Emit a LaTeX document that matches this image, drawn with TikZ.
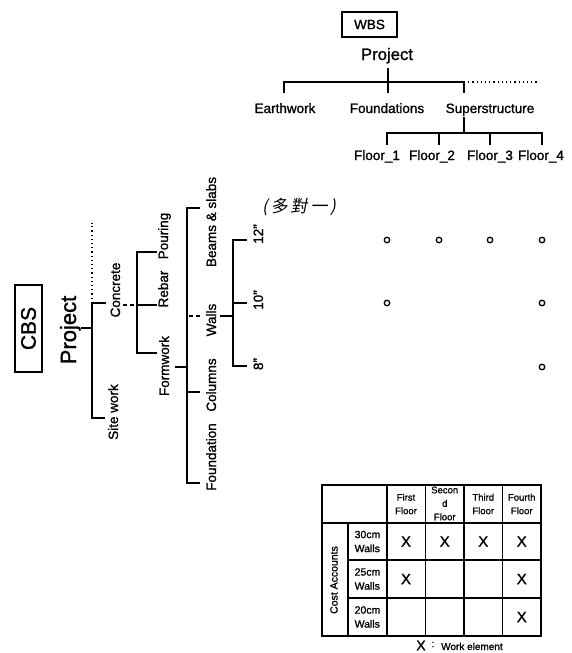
\documentclass[tikz,border=0pt]{standalone}
\usepackage{fontspec}
\setmainfont{Liberation Sans}[FakeBold=1.2]
\newfontfamily\cjkfont[FakeSlant=0.2]{Noto Sans CJK TC}
\begin{document}
\begin{tikzpicture}[x=1pt,y=-1pt,
  ln/.style={line width=1.3pt},
  dotln/.style={line width=1.2pt, dash pattern=on 1.2pt off 3pt},
  dashln/.style={line width=1.3pt, dash pattern=on 4pt off 3pt},
  boxnode/.style={draw, line width=1.2pt, inner sep=0pt},
  lbl/.style={font=\fontsize{13.5}{16}\selectfont, inner sep=0pt, anchor=base},
  vlbl/.style={lbl, rotate=90},
  thead/.style={font=\fontsize{9.5}{13.5}\selectfont, align=center, inner sep=0pt},
  trow/.style={font=\fontsize{10.5}{14}\selectfont, align=left, inner sep=0pt},
  xmark/.style={font=\fontsize{15}{15}\selectfont, inner sep=0pt},
  dotc/.style={draw, circle, line width=1.3pt, minimum size=5.5pt, inner sep=0pt},
  tbl/.style={line width=1.4pt},
  tblin/.style={line width=1.1pt},
]
\useasboundingbox (0,0) rectangle (572,653);

% ---------------- WBS ----------------
\node[boxnode, minimum width=55pt, minimum height=25pt, font=\fontsize{13.5}{16}\selectfont] (wbs) at (369.5,24.5) {WBS};
\node[font=\fontsize{16.7}{20}\selectfont, inner sep=0pt, anchor=base] (wproj) at (387,60) {Project};
\node[lbl] (earth) at (285,113) {Earthwork};
\node[lbl] (found) at (387,113) {Foundations};
\node[lbl] (super) at (490,113) {Superstructure};
\node[lbl] (fl1) at (377,160) {Floor\_1};
\node[lbl] (fl2) at (432,160) {Floor\_2};
\node[lbl] (fl3) at (490,160) {Floor\_3};
\node[lbl] (fl4) at (541,160) {Floor\_4};

\coordinate (wproj-out) at (388,68);
\coordinate (found-in) at (388,93);
\coordinate (earth-in) at (284,93);
\coordinate (super-in) at (464,93);
\coordinate (w-right) at (464,82);
\coordinate (w-dot) at (537,82);
\draw[ln] (wproj-out) -- (found-in);
\draw[ln] (earth-in) |- (w-right) -- (super-in);
\draw[dotln] (w-right) -- (w-dot);

\coordinate (super-out) at (464,117);
\coordinate (s-j) at (464,133);
\coordinate (fl1-in) at (387,145);
\coordinate (fl2-in) at (439,145);
\coordinate (fl3-in) at (490,145);
\coordinate (fl4-in) at (542,145);
\draw[ln] (super-out) -- (s-j);
\draw[ln] (fl1-in) |- (fl4-in |- s-j) -- (fl4-in);
\draw[ln] (fl2-in) -- (fl2-in |- s-j);
\draw[ln] (fl3-in) -- (fl3-in |- s-j);

% ---------------- CBS ----------------
\node[boxnode, rotate=90, minimum width=87pt, minimum height=27pt, font=\fontsize{21}{24}\selectfont] (cbs) at (28.5,328.5) {CBS};
\node[vlbl, font=\fontsize{22}{26}\selectfont] (cproj) at (76,330) {Project};
\node[vlbl] (conc) at (120,290) {Concrete};
\node[vlbl] (site) at (118,412) {Site work};
\node[vlbl] (pour) at (168,236) {Pouring};
\node[vlbl] (rebar) at (168,289) {Rebar};
\node[vlbl] (form) at (169,366) {Formwork};
\node[vlbl] (beam) at (216,222) {Beams \& slabs};
\node[vlbl] (walls) at (216,320) {Walls};
\node[vlbl] (col) at (216,385) {Columns};
\node[vlbl] (fdn) at (216,457) {Foundation};
\node[vlbl] (t12) at (263,234) {12"};
\node[vlbl] (t10) at (263,300) {10"};
\node[vlbl] (t8) at (263,364) {8"};

\coordinate (cproj-out) at (81,328);
\coordinate (c-mid) at (92,328);
\coordinate (conc-in) at (106,303);
\coordinate (site-in) at (105,418);
\coordinate (c-top) at (92,303);
\coordinate (c-bot) at (92,418);
\coordinate (c-dot) at (92,223);
\draw[ln] (cproj-out) -- (c-mid);
\draw[ln] (conc-in) -| (c-bot) -- (site-in);
\draw[dotln] (c-top) -- (c-dot);

\coordinate (conc-out) at (123,305);
\coordinate (k-mid) at (137,305);
\coordinate (pour-in) at (157,252);
\coordinate (rebar-in) at (157,305);
\coordinate (form-in) at (157,353);
\draw[dashln] (conc-out) -- (k-mid);
\draw[ln] (pour-in) -| (k-mid |- form-in) -- (form-in);
\draw[ln] (k-mid) -- (rebar-in);

\coordinate (form-out) at (175,367);
\coordinate (f-mid) at (187,367);
\coordinate (beam-in) at (200,208);
\coordinate (walls-in) at (200,316);
\coordinate (col-in) at (200,392);
\coordinate (fdn-in) at (200,483);
\draw[ln] (form-out) -- (f-mid);
\draw[ln] (beam-in) -| (f-mid |- fdn-in) -- (fdn-in);
\draw[ln] (col-in) -- (f-mid |- col-in);
\draw[dashln] (walls-in) -- (f-mid |- walls-in);

\coordinate (walls-out) at (220,316);
\coordinate (wl-mid) at (233,316);
\coordinate (t12-in) at (247,240);
\coordinate (t10-in) at (247,303);
\coordinate (t8-in) at (247,366);
\draw[ln] (walls-out) -- (wl-mid);
\draw[ln] (t12-in) -| (wl-mid |- t8-in) -- (t8-in);
\draw[ln] (t10-in) -- (wl-mid |- t10-in);

% ---------------- many-to-one ----------------
\node[font=\cjkfont\fontsize{17}{17}\selectfont, inner sep=0pt] (mto) at (299,207) {(\,多\,對\,一\,)};
\node[dotc] (d11) at (387,240) {};
\node[dotc] (d12) at (439,240) {};
\node[dotc] (d13) at (490,240) {};
\node[dotc] (d14) at (542,240) {};
\node[dotc] (d21) at (387,303) {};
\node[dotc] (d24) at (542,303) {};
\node[dotc] (d34) at (542,367) {};

% ---------------- table ----------------
\draw[tbl] (322,485) rectangle (541,636);
\draw[tblin] (322,523) -- (541,523);
\draw[tblin] (348,560) -- (541,560);
\draw[tblin] (348,598) -- (541,598);
\draw[tblin] (348,523) -- (348,636);
\foreach \xx in {387,425.5,464,502.5} \draw[tblin] (\xx,485) -- (\xx,636);

\node[thead] (h1) at (406,504) {First\\Floor};
\node[thead] (h2) at (444.75,503.5) {Secon\\d\\Floor};
\node[thead] (h3) at (483.25,504) {Third\\Floor};
\node[thead] (h4) at (521.75,504) {Fourth\\Floor};
\node[trow] (r1) at (367.5,541.5) {30cm\\Walls};
\node[trow] (r2) at (367.5,579) {25cm\\Walls};
\node[trow] (r3) at (367.5,617) {20cm\\Walls};
\node[rotate=90, font=\fontsize{10.5}{12}\selectfont, inner sep=0pt] (cost) at (334,580) {Cost Accounts};

\node[xmark] (x11) at (406,541.5) {X};
\node[xmark] (x12) at (444.75,541.5) {X};
\node[xmark] (x13) at (483.25,541.5) {X};
\node[xmark] (x14) at (521.75,541.5) {X};
\node[xmark] (x21) at (406,579) {X};
\node[xmark] (x24) at (521.75,579) {X};
\node[xmark] (x34) at (521.75,617) {X};

\node[font=\fontsize{14}{14}\selectfont, inner sep=0pt] (lgx) at (421,645.5) {X};
\node[font=\fontsize{10}{12}\selectfont, inner sep=0pt] (lgc) at (433,644.5) {:};
\node[font=\fontsize{10}{12}\selectfont, inner sep=0pt, anchor=base west] (lgt) at (441,650) {Work element};
\end{tikzpicture}
\end{document}
